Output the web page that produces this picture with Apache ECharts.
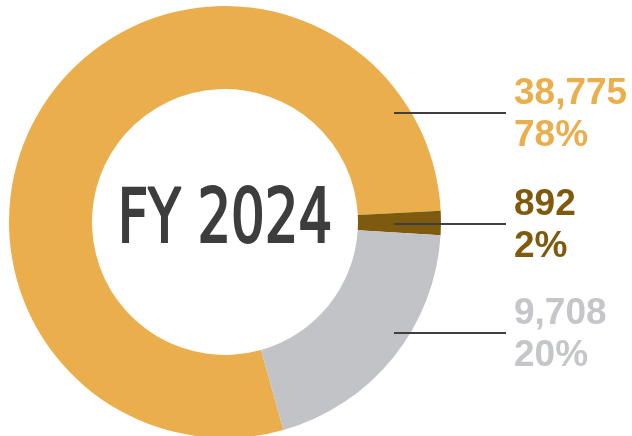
<!DOCTYPE html>
<html>
<head>
<meta charset="utf-8">
<script src="https://cdn.jsdelivr.net/npm/echarts@6/dist/echarts.min.js"></script>
<style>
    html, body { margin: 0; padding: 0; background: #fff; }
    #chart { width: 632px; height: 436px; }
</style>
</head>
<body>
<div id="chart"></div>
<script>
    // data
    let names = ['Segment A', 'Segment B', 'Segment C']
    let values = [38775, 892, 9708]
    let centerTitle = 'FY 2024'

    let colors = ['#EAAE4C', '#7D5A0E', '#C2C3C6']
    let labelColors = ['#EAAE4C', '#7D5A0E', '#C5C6C9']
    // where the leader lines sit (px)
    let lineY = [113, 224, 333]

    let myChart = echarts.init(document.getElementById('chart'))

    let base = {
        type: 'pie',
        center: [225, 222],
        radius: [133, 216],
        startAngle: -74.3,
        clockwise: true,
        avoidLabelOverlap: false,
        percentPrecision: 0,
        emphasis: { disabled: true }
    }

    myChart.setOption({
        animation: false,
        graphic: [{
            type: 'text',
            x: 225,
            y: 223,
            scaleX: 0.785,
            style: {
                text: centerTitle,
                x: 0,
                y: 0,
                fill: '#3D3D3D',
                stroke: '#3D3D3D',
                lineWidth: 2.2,
                font: 'normal 75px "DejaVu Sans Condensed", "DejaVu Sans"',
                textAlign: 'center',
                textVerticalAlign: 'middle'
            }
        }],
        series: [
            // the ring itself
            {
                ...base,
                z: 2,
                label: { show: false },
                labelLine: { show: false },
                data: names.map((n, i) => ({ name: n, value: values[i], itemStyle: { color: colors[i] } }))
            },
            // same ring, invisible, only carries the labels so the lines sit on top
            {
                ...base,
                z: 5,
                silent: true,
                itemStyle: { color: 'rgba(0,0,0,0)' },
                label: {
                    show: true,
                    position: 'outside',
                    opacity: 1,
                    formatter: (p) => '{v|' + echarts.format.addCommas(p.value) + '}\n{v|' + p.percent + '%}',
                    rich: {
                        v: {
                            fontFamily: 'Liberation Sans, Arial',
                            fontWeight: 'bold',
                            fontSize: 37,
                            lineHeight: 42
                        }
                    }
                },
                labelLine: {
                    show: true,
                    lineStyle: { color: '#3F3F3F', width: 2.2, opacity: 1 }
                },
                labelLayout: (params) => {
                    let y = lineY[params.dataIndex]
                    return {
                        x: 514,
                        y: y + 2,
                        align: 'left',
                        verticalAlign: 'middle',
                        labelLinePoints: [[394, y], [450, y], [506, y]]
                    }
                },
                data: names.map((n, i) => ({ name: n, value: values[i], label: { color: labelColors[i] } }))
            }
        ]
    })
</script>
</body>
</html>
